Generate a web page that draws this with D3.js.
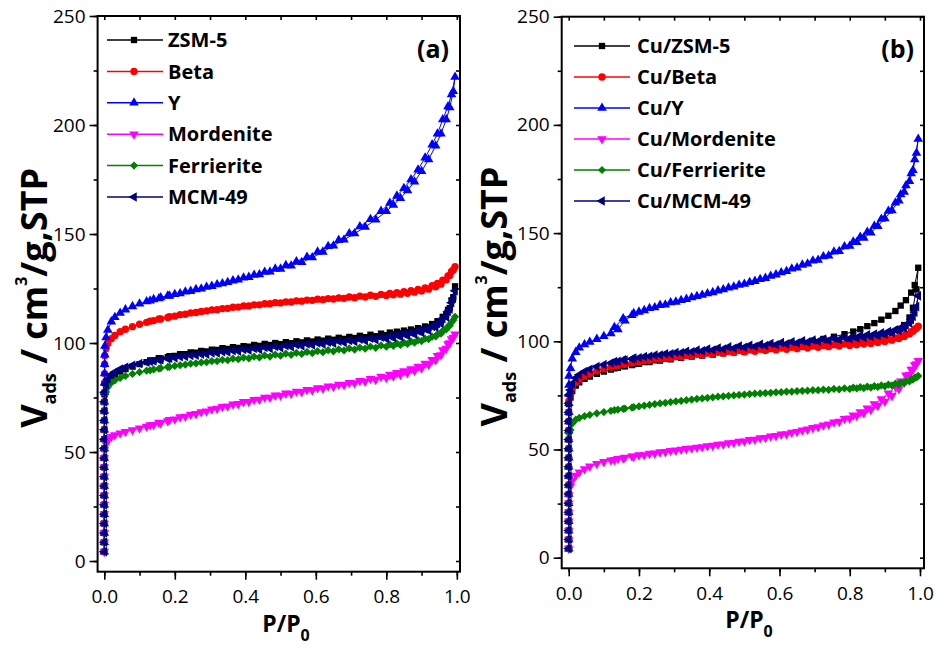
<!DOCTYPE html>
<html><head><meta charset="utf-8">
<script src="https://cdn.jsdelivr.net/npm/d3@7"></script>
<style>
html,body{margin:0;padding:0;background:#fff;}
svg{display:block;}
text{font-family:"Open Sans","Liberation Sans",sans-serif;fill:#000;}
</style></head>
<body>
<svg id="chart" width="936" height="651"></svg>
<script>
// ---------------- DATA ----------------
// shared relative pressures (P/P0)
const pLow = [1e-7,2e-7,4e-7,7e-7,1e-6,2e-6,4e-6,7e-6,1e-5,2e-5,4e-5,7e-5,1e-4,1.5e-4,2e-4,3e-4,4e-4,5e-4,6e-4,8e-4,1e-3,1.3e-3,1.6e-3,2e-3,2.5e-3];
const pAds = [0.005,0.01,0.02,0.03,0.045,0.06,0.08,0.1,0.12,0.14,0.16,0.18,0.2,0.23,0.26,0.29,0.32,0.35,0.38,0.41,0.44,0.47,0.5,0.53,0.56,0.59,0.62,0.65,0.68,0.71,0.74,0.77,0.8,0.82,0.84,0.86,0.88,0.9,0.92,0.94,0.955,0.97,0.98,0.99];
const pDes = [0.995,0.985,0.975,0.96,0.945,0.93,0.91,0.89,0.87,0.85,0.83,0.81,0.785,0.755,0.725,0.695,0.665,0.635,0.605,0.575,0.545,0.515,0.485,0.455,0.425,0.395,0.365,0.335,0.305,0.275,0.245,0.215,0.185,0.155,0.13];

const xTicks = [0.0,0.2,0.4,0.6,0.8,1.0];
const yTicks = [0,50,100,150,200,250];

// ----- panel (a) -----
const namesA = ["ZSM-5","Beta","Y","Mordenite","Ferrierite","MCM-49"];
const aZSM5Low = [4.3,8.6,12.9,17.2,21.5,25.8,30.1,34.4,38.7,43.0,47.3,51.6,55.9,60.2,64.5,68.8,72.9,76.5];
const aZSM5Ads = [79.5,81.8,84.0,85.4,86.9,88.0,89.2,90.3,91.2,92.0,92.8,93.5,94.1,94.9,95.6,96.2,96.8,97.3,97.8,98.3,98.7,99.1,99.5,99.9,100.3,100.7,101.1,101.5,101.9,102.3,102.7,103.1,103.6,104.0,104.4,104.9,105.5,106.2,107.1,108.4,110.0,112.8,116.0,121.0];
const aZSM5Des = [126.0,119.5,115.2,112.0,110.0,108.7,107.6,106.8,106.2,105.7,105.2,104.8,104.3,103.8,103.3,102.8,102.4,102.0,101.6,101.2,100.8,100.4,100.0,99.6,99.1,98.6,98.1,97.6,97.0,96.4,95.7,94.9,94.0,93.0,92.0];

const aBetaLow = [4.3,8.6,12.9,17.2,21.5,25.8,30.1,34.4,38.7,43.0,47.3,51.6,55.9,60.2,64.5,68.8,73.1,77.4,81.7,86.0,90.3,94.2];
const aBetaAds = [97.5,99.8,102.0,103.5,105.2,106.3,107.5,108.6,109.5,110.3,111.0,111.7,112.3,113.2,114.0,114.7,115.3,115.9,116.5,117.0,117.5,118.0,118.4,118.8,119.2,119.6,119.9,120.2,120.5,120.8,121.1,121.4,121.8,122.1,122.4,122.8,123.3,123.9,124.7,125.8,127.0,129.0,131.0,133.5];
const aBetaDes = [135.0,132.8,130.8,128.8,127.3,126.3,125.3,124.6,124.0,123.5,123.1,122.7,122.3,121.9,121.5,121.1,120.7,120.4,120.1,119.7,119.3,118.9,118.5,118.0,117.5,117.0,116.4,115.8,115.2,114.5,113.8,113.0,112.1,111.0,110.0];

const aYLow = [4.3,8.6,12.9,17.2,21.5,25.8,30.1,34.4,38.7,43.0,47.3,51.6,55.9,60.2,64.5,68.8,73.1,77.4,81.7,86.0,90.3,94.6,98.6];
const aYAds = [102.5,106.0,109.8,111.8,113.8,115.3,116.8,118.0,119.0,120.0,120.9,121.7,122.4,123.5,124.6,125.7,126.8,127.9,129.0,130.2,131.4,132.7,134.0,135.4,137.0,139.2,141.8,144.6,147.4,150.2,153.2,156.6,160.4,163.3,166.4,170.0,174.0,178.8,184.2,190.5,196.0,202.5,208.0,215.5];
const aYDes = [222.0,214.0,208.5,202.5,196.0,191.0,185.0,179.5,175.0,171.0,167.5,164.2,160.5,156.8,153.4,150.2,147.2,144.4,141.8,139.4,137.4,135.6,134.0,132.6,131.2,129.9,128.6,127.3,126.1,124.9,123.8,122.7,121.6,120.4,119.4];

const aMorLow = [4.3,8.6,12.9,17.2,21.5,25.8,30.1,34.4,38.7,43.0,47.3,51.0];
const aMorAds = [53.5,55.5,57.0,57.8,58.6,59.3,60.1,60.9,61.7,62.5,63.3,64.2,65.0,66.3,67.5,68.7,69.9,71.0,72.1,73.1,74.1,75.0,75.9,76.8,77.6,78.4,79.2,80.0,80.8,81.6,82.4,83.2,84.1,84.8,85.5,86.3,87.3,88.5,90.0,92.2,94.5,97.5,100.0,102.5];
const aMorDes = [104.0,101.8,99.5,96.8,94.2,92.3,90.6,89.2,88.1,87.1,86.3,85.5,84.6,83.6,82.7,81.8,81.0,80.2,79.4,78.6,77.8,76.9,76.0,75.0,74.0,73.0,71.9,70.8,69.6,68.4,67.2,66.0,64.8,63.5,62.4];

const aFerLow = [4.3,8.6,12.9,17.2,21.5,25.8,30.1,34.4,38.7,43.0,47.3,51.6,55.9,60.2,64.5,68.8,72.8];
const aFerAds = [77.5,79.8,81.8,82.9,84.0,84.9,85.8,86.6,87.3,87.9,88.5,89.0,89.5,90.1,90.7,91.2,91.7,92.1,92.6,93.0,93.4,93.8,94.2,94.6,95.0,95.4,95.8,96.2,96.6,97.0,97.4,97.8,98.3,98.7,99.1,99.6,100.2,100.9,101.8,103.0,104.3,106.2,108.0,110.5];
const aFerDes = [112.0,109.5,107.6,105.6,104.0,102.9,102.0,101.3,100.7,100.2,99.8,99.4,98.9,98.4,97.9,97.5,97.1,96.7,96.3,95.9,95.5,95.1,94.7,94.3,93.8,93.3,92.8,92.3,91.7,91.1,90.5,89.8,89.1,88.2,87.5];

const aMCMLow = [4.3,8.6,12.9,17.2,21.5,25.8,30.1,34.4,38.7,43.0,47.3,51.6,55.9,60.2,64.5,68.8,73.1,77.4];
const aMCMAds = [81.0,83.5,85.5,86.7,88.0,88.9,89.8,90.6,91.2,91.8,92.3,92.8,93.2,93.8,94.4,94.9,95.4,95.9,96.3,96.7,97.1,97.5,97.9,98.3,98.7,99.1,99.5,99.9,100.3,100.7,101.1,101.5,102.0,102.4,102.9,103.4,104.0,104.8,105.8,107.3,109.0,112.0,115.5,120.5];
const aMCMDes = [124.0,118.5,114.5,111.2,109.0,107.6,106.4,105.5,104.8,104.2,103.7,103.2,102.7,102.2,101.7,101.2,100.8,100.4,100.0,99.6,99.2,98.8,98.4,98.0,97.5,97.0,96.5,96.0,95.5,94.9,94.3,93.7,93.0,92.2,91.5];

// ----- panel (b) -----
const namesB = ["Cu/ZSM-5","Cu/Beta","Cu/Y","Cu/Mordenite","Cu/Ferrierite","Cu/MCM-49"];
const bZSM5Low = [4.2,8.4,12.6,16.8,21.0,25.2,29.4,33.6,37.8,42.0,46.2,50.4,54.6,58.8,63.0,67.2,71.0];
const bZSM5Ads = [74.0,77.0,79.5,81.0,82.6,83.7,85.0,86.0,86.9,87.7,88.4,89.0,89.6,90.4,91.1,91.7,92.3,92.9,93.4,93.9,94.4,94.9,95.3,95.7,96.1,96.5,96.9,97.3,97.7,98.1,98.5,99.0,99.5,99.9,100.4,101.0,101.7,102.6,103.8,105.5,107.5,111.0,115.5,124.0];
const bZSM5Des = [134.0,126.0,122.5,119.0,116.5,114.0,111.8,110.0,108.4,107.0,105.6,104.5,103.3,102.1,101.1,100.2,99.5,98.9,98.4,97.9,97.4,96.9,96.4,95.9,95.3,94.7,94.1,93.4,92.7,92.0,91.2,90.4,89.5,88.5,87.5];

const bBetaLow = [4.2,8.4,12.6,16.8,21.0,25.2,29.4,33.6,37.8,42.0,46.2,50.4,54.6,58.8,63.0,67.2,72.5];
const bBetaAds = [75.5,78.5,81.0,82.5,84.0,85.1,86.3,87.3,88.1,88.8,89.4,90.0,90.5,91.2,91.8,92.3,92.8,93.3,93.7,94.1,94.5,94.8,95.1,95.4,95.7,96.0,96.3,96.6,96.9,97.2,97.5,97.8,98.1,98.4,98.7,99.0,99.4,99.9,100.5,101.3,102.2,103.4,104.6,106.0];
const bBetaDes = [107.0,105.6,104.4,103.2,102.3,101.6,101.0,100.5,100.1,99.7,99.4,99.1,98.8,98.4,98.1,97.8,97.5,97.2,96.9,96.6,96.3,96.0,95.7,95.3,94.9,94.5,94.0,93.5,93.0,92.4,91.8,91.1,90.4,89.6,88.8];

const bYLow = [4.2,8.4,12.6,16.8,21.0,25.2,29.4,33.6,37.8,42.0,46.2,50.4,54.6,58.8,63.0,67.2,71.4,75.6,79.8,84.0];
const bYAds = [87.5,92.0,95.0,97.0,98.5,99.7,101.0,102.3,103.6,105.5,109.5,112.0,113.6,115.3,116.7,117.9,119.0,120.2,121.4,122.6,123.9,125.2,126.5,127.8,129.2,130.8,132.4,134.0,135.8,137.6,139.5,141.6,144.0,145.8,147.8,150.2,153.2,156.8,160.5,165.0,169.0,174.0,179.0,187.0];
const bYDes = [193.5,184.0,177.5,172.0,167.8,164.0,160.2,156.5,153.3,150.5,148.2,146.0,143.8,141.4,139.2,137.2,135.3,133.5,131.8,130.2,128.7,127.3,126.0,124.7,123.4,122.1,120.8,119.5,118.2,116.9,115.6,114.3,112.9,110.5,106.5];

const bMorLow = [4.2,8.4,12.6,16.8,21.0,25.2,29.0];
const bMorAds = [33.0,35.5,38.0,39.5,41.0,42.2,43.4,44.3,45.0,45.7,46.3,46.9,47.4,48.1,48.8,49.4,50.0,50.6,51.2,51.8,52.4,53.1,53.8,54.6,55.4,56.3,57.2,58.2,59.3,60.4,61.6,62.9,64.4,65.6,66.9,68.4,70.2,72.2,74.8,78.0,81.0,84.5,87.0,89.5];
const bMorDes = [91.0,89.0,87.0,84.3,81.5,79.0,76.0,73.3,71.0,69.0,67.3,65.8,64.2,62.6,61.2,60.0,58.9,57.9,57.0,56.1,55.3,54.5,53.7,53.0,52.3,51.6,50.9,50.3,49.6,48.9,48.2,47.5,46.8,46.0,45.2];

const bFerLow = [4.2,8.4,12.6,16.8,21.0,25.2,29.4,33.6,37.8,42.0,46.2,50.4,54.6,57.5];
const bFerAds = [59.0,62.0,63.8,64.6,65.4,66.0,66.7,67.3,67.9,68.4,68.9,69.4,69.9,70.6,71.3,71.9,72.5,73.1,73.6,74.1,74.6,75.0,75.4,75.8,76.1,76.4,76.7,77.0,77.2,77.4,77.6,77.8,78.0,78.2,78.4,78.6,78.9,79.2,79.6,80.1,80.7,81.5,82.3,83.3];
const bFerDes = [84.0,83.2,82.4,81.5,80.9,80.4,80.0,79.6,79.3,79.0,78.8,78.6,78.3,78.0,77.7,77.4,77.1,76.8,76.5,76.2,75.9,75.6,75.2,74.8,74.4,73.9,73.4,72.8,72.2,71.6,71.0,70.3,69.6,68.8,68.2];

const bMCMLow = [4.2,8.4,12.6,16.8,21.0,25.2,29.4,33.6,37.8,42.0,46.2,50.4,54.6,58.8,63.0,67.2,71.4,75.2];
const bMCMAds = [77.5,80.5,83.0,84.5,86.0,87.1,88.3,89.2,90.0,90.7,91.3,91.9,92.4,93.1,93.7,94.2,94.7,95.2,95.6,96.0,96.4,96.8,97.2,97.6,98.0,98.4,98.8,99.2,99.6,100.0,100.4,100.8,101.2,101.5,101.8,102.2,102.7,103.3,104.0,105.0,106.2,108.5,111.5,116.0];
const bMCMDes = [121.0,113.5,110.0,107.5,106.2,105.3,104.5,103.9,103.4,103.0,102.6,102.2,101.8,101.4,101.0,100.6,100.2,99.8,99.4,99.0,98.6,98.2,97.8,97.4,96.9,96.4,95.9,95.4,94.8,94.2,93.6,92.9,92.2,91.4,90.6];

// ---------------- DRAWING ----------------
const colors = ["#000000","#ff0000","#0000ff","#ff00ff","#008000","#000080"];
const symbols = ["square","circle","up","down","diamond","left"];

function series(low, ads, des){
  const pts = [];
  low.forEach((v,i)=>pts.push([pLow[i], v]));
  ads.forEach((v,i)=>pts.push([pAds[i], v]));
  des.forEach((v,i)=>pts.push([pDes[i], v]));
  return pts;
}

const panels = [
  {tag:"(a)", names:namesA,
   data:[series(aZSM5Low,aZSM5Ads,aZSM5Des),series(aBetaLow,aBetaAds,aBetaDes),series(aYLow,aYAds,aYDes),
         series(aMorLow,aMorAds,aMorDes),series(aFerLow,aFerAds,aFerDes),series(aMCMLow,aMCMAds,aMCMDes)],
   l:97.6, r:460, t:16, b:571.7, xd:[-0.019,1.009], yd:[-4.9,250],
   leg:{x1:107,x2:163,xm:134,xt:168,y0:40,dy:31.4}, tagX:449, tagY:58, ylx:46.5, xlabX:286},
  {tag:"(b)", names:namesB,
   data:[series(bZSM5Low,bZSM5Ads,bZSM5Des),series(bBetaLow,bBetaAds,bBetaDes),series(bYLow,bYAds,bYDes),
         series(bMorLow,bMorAds,bMorDes),series(bFerLow,bFerAds,bFerDes),series(bMCMLow,bMCMAds,bMCMDes)],
   l:561.7, r:924, t:16.7, b:568.3, xd:[-0.02,1.0114], yd:[-4.9,250],
   leg:{x1:574,x2:630,xm:602,xt:637,y0:46,dy:31}, tagX:914, tagY:58, ylx:506.5, xlabX:749}
];

const svg = d3.select("#chart");

function symPath(kind){
  switch(kind){
    case "square": return {d:d3.symbol(d3.symbolSquare,40)(), rot:0};
    case "circle": return {d:d3.symbol(d3.symbolCircle,42)(), rot:0};
    case "up": return {d:d3.symbol(d3.symbolTriangle,40)(), rot:0};
    case "down": return {d:d3.symbol(d3.symbolTriangle,40)(), rot:180};
    case "diamond": return {d:d3.symbol(d3.symbolSquare,34)(), rot:45};
    case "left": return {d:d3.symbol(d3.symbolTriangle,40)(), rot:-90};
  }
}

panels.forEach(P=>{
  const x = d3.scaleLinear().domain(P.xd).range([P.l,P.r]);
  const y = d3.scaleLinear().domain(P.yd).range([P.b,P.t]);
  const g = svg.append("g");

  // clip
  const cid = "clip"+P.tag.replace(/\W/g,"");
  svg.append("clipPath").attr("id",cid).append("rect")
    .attr("x",P.l).attr("y",P.t).attr("width",P.r-P.l).attr("height",P.b-P.t);
  const plot = g.append("g").attr("clip-path",`url(#${cid})`);

  const line = d3.line().x(d=>x(d[0])).y(d=>y(d[1]));
  P.data.forEach((pts,i)=>{
    const sg = plot.append("g");
    sg.append("path").attr("d",line(pts)).attr("fill","none")
      .attr("stroke",colors[i]).attr("stroke-width",1);
    const s = symPath(symbols[i]);
    sg.selectAll("path.m").data(pts).join("path").attr("class","m")
      .attr("d",s.d).attr("fill",colors[i])
      .attr("transform",d=>`translate(${x(d[0])},${y(d[1])}) rotate(${s.rot})`);
  });

  // axes
  const xMinor = d3.range(0,1.0001,0.1);
  const yMinor = d3.range(0,250.001,25);
  const axB = d3.axisBottom(x).tickValues(xMinor).tickSize(4).tickFormat("");
  g.append("g").attr("transform",`translate(0,${P.b})`).call(axB);
  const axB2 = d3.axisBottom(x).tickValues(xTicks).tickSize(8).tickPadding(10).tickFormat(d3.format(".1f"));
  g.append("g").attr("class","xt").attr("transform",`translate(0,${P.b})`).call(axB2);
  const axL = d3.axisLeft(y).tickValues(yMinor).tickSize(4).tickFormat("");
  g.append("g").attr("transform",`translate(${P.l},0)`).call(axL);
  const axL2 = d3.axisLeft(y).tickValues(yTicks).tickSize(8).tickPadding(4).tickFormat(d3.format("d"));
  g.append("g").attr("class","yt").attr("transform",`translate(${P.l},0)`).call(axL2);
  const axT = d3.axisTop(x).tickValues(xMinor).tickSize(-4).tickFormat("");
  g.append("g").attr("transform",`translate(0,${P.t})`).call(axT);
  const axR = d3.axisRight(y).tickValues(yMinor).tickSize(-4).tickFormat("");
  g.append("g").attr("transform",`translate(${P.r},0)`).call(axR);

  g.selectAll(".domain").remove();
  g.selectAll(".tick line").attr("stroke","#000").attr("stroke-width",1.6);
  g.selectAll(".tick text").attr("font-size",19).attr("fill","#000")
    .style("font-family",'"Open Sans","Liberation Sans",sans-serif');

  // frame
  g.append("rect").attr("x",P.l).attr("y",P.t).attr("width",P.r-P.l).attr("height",P.b-P.t)
    .attr("fill","none").attr("stroke","#000").attr("stroke-width",2);

  // legend
  P.names.forEach((n,i)=>{
    const ly = P.leg.y0 + i*P.leg.dy;
    g.append("line").attr("x1",P.leg.x1).attr("x2",P.leg.x2).attr("y1",ly).attr("y2",ly)
      .attr("stroke",colors[i]).attr("stroke-width",1.5);
    const s = symPath(symbols[i]);
    g.append("path").attr("d",s.d).attr("fill",colors[i])
      .attr("transform",`translate(${P.leg.xm},${ly}) rotate(${s.rot})`);
    g.append("text").attr("x",P.leg.xt).attr("y",ly).attr("dy","0.36em")
      .attr("font-size",20).attr("font-weight","bold").text(n);
  });

  // tag
  g.append("text").attr("x",P.tagX).attr("y",P.tagY).attr("text-anchor","end")
    .attr("font-size",25).attr("font-weight","bold").text(P.tag);

  // x label
  const xl = g.append("text").attr("x",P.xlabX).attr("y",P.b+60).attr("text-anchor","middle")
    .attr("font-size",23).attr("font-weight","bold");
  xl.append("tspan").text("P/P");
  xl.append("tspan").attr("font-size",16).attr("dy",9).text("0");

  // y label
  const cy = (P.t+P.b)/2 + 4;
  const yl = g.append("text").attr("transform",`translate(${P.ylx},${cy}) rotate(-90)`)
    .attr("text-anchor","middle").attr("font-size",36).attr("font-weight","bold");
  yl.append("tspan").text("V");
  yl.append("tspan").attr("font-size",18).attr("dy",9).text("ads");
  yl.append("tspan").attr("dy",-9).text(" / cm");
  yl.append("tspan").attr("font-size",16).attr("dy",-20).text("3");
  yl.append("tspan").attr("dy",20).text("/g,STP");
});
</script>
</body></html>
